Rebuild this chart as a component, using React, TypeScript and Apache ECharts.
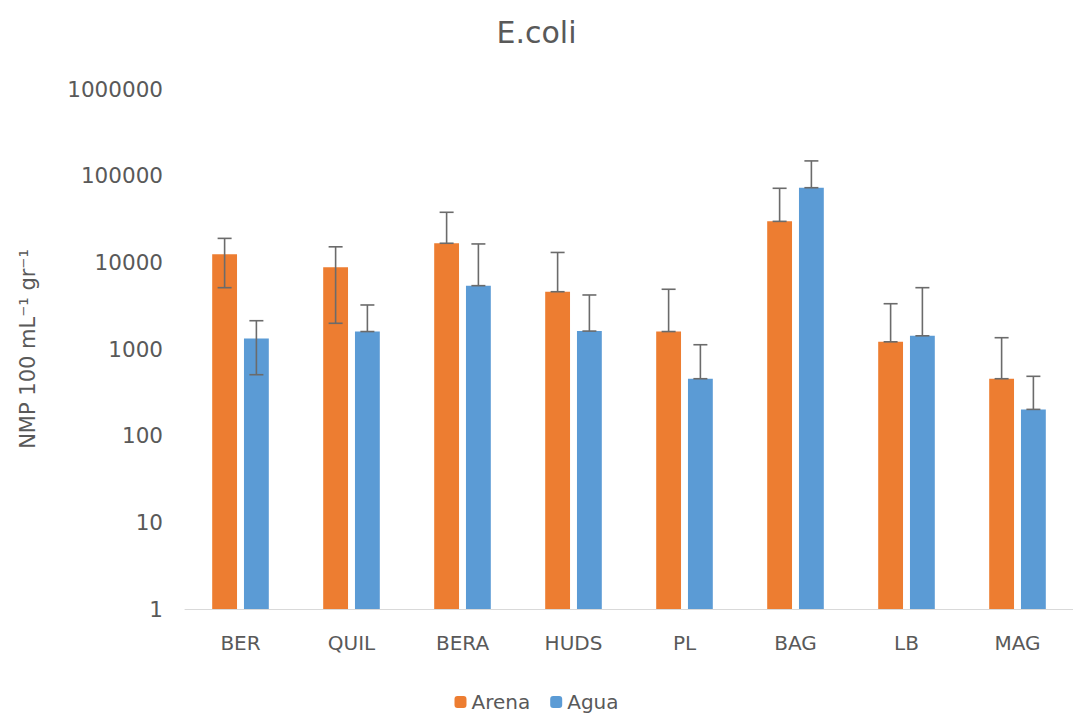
import React, { useEffect, useRef } from "react";
import * as echarts from "echarts";

const categories = ["BER", "QUIL", "BERA", "HUDS", "PL", "BAG", "LB", "MAG"];
const arenaValues = [12400, 8760, 16600, 4580, 1590, 29700, 1210, 454];
const aguaValues = [1320, 1590, 5380, 1610, 454, 72600, 1420, 201];
const arenaLow = [5100, 1980, 16600, 4580, 1590, 29700, 1210, 454];
const arenaHigh = [18900, 15100, 37800, 13000, 4890, 71500, 3330, 1350];
const aguaLow = [505, 1590, 5380, 1610, 454, 72600, 1420, 201];
const aguaHigh = [2120, 3220, 16300, 4200, 1120, 148000, 5100, 484];
const yTicks = [1, 10, 100, 1000, 10000, 100000, 1000000];

const FONT = "DejaVu Sans";
const TEXT = "#595959";
const CAT_GAP = 0.49;
const BAR_GAP = 0.28;

function makeErrorSeries(name: string, lows: number[], highs: number[], side: number) {
  return {
    type: "custom",
    name: name + " err",
    z: 10,
    silent: true,
    encode: { x: 0, y: [1, 2] },
    data: categories.map((_, i) => [i, lows[i], highs[i]]),
    renderItem: (params: any, api: any) => {
      const i = api.value(0);
      const lo = api.coord([i, api.value(1)]);
      const hi = api.coord([i, api.value(2)]);
      const band = api.size([1, 0])[0];
      const total = band * (1 - CAT_GAP);
      const bw = total / (2 + BAR_GAP);
      const off = side * (bw * (1 + BAR_GAP)) / 2;
      const x = lo[0] + off;
      const cap = 7;
      const style = { stroke: "#6b6b6b", lineWidth: 1.6 };
      return {
        type: "group",
        children: [
          { type: "line", shape: { x1: x, y1: lo[1], x2: x, y2: hi[1] }, style },
          { type: "line", shape: { x1: x - cap, y1: hi[1], x2: x + cap, y2: hi[1] }, style },
          { type: "line", shape: { x1: x - cap, y1: lo[1], x2: x + cap, y2: lo[1] }, style },
        ],
      };
    },
  };
}

export default function App() {
  const ref = useRef<HTMLDivElement>(null);
  useEffect(() => {
    if (!ref.current) return;
    const chart = echarts.init(ref.current, null, { renderer: "svg" });
    chart.setOption({
      animation: false,
      backgroundColor: "#ffffff",
      textStyle: { fontFamily: FONT },
      title: {
        text: "E.coli",
        left: "center",
        top: 12,
        textStyle: { fontFamily: FONT, fontSize: 30, fontWeight: "normal", color: TEXT },
      },
      legend: {
        top: 687,
        left: "center",
        itemWidth: 12,
        itemHeight: 12,
        itemGap: 20,
        data: ["Arena", "Agua"],
        textStyle: { fontFamily: FONT, fontSize: 20, color: TEXT },
      },
      grid: { left: 185, top: 89, width: 896, bottom: 106, containLabel: false },
      xAxis: {
        type: "category",
        data: categories,
        axisLine: { show: true, lineStyle: { color: "#d9d9d9", width: 1 } },
        axisTick: { show: false },
        axisLabel: { fontFamily: FONT, fontSize: 20, color: TEXT, margin: 24 },
      },
      yAxis: {
        type: "log",
        logBase: 10,
        min: yTicks[0],
        max: yTicks[yTicks.length - 1],
        name: "NMP 100 mL⁻¹ gr⁻¹",
        nameLocation: "middle",
        nameRotate: 90,
        nameGap: 147,
        nameTextStyle: { fontFamily: FONT, fontSize: 21, color: TEXT },
        axisLine: { show: false },
        axisTick: { show: false },
        splitLine: { show: false },
        axisLabel: {
          fontFamily: FONT,
          fontSize: 21.5,
          color: TEXT,
          margin: 22,
          formatter: (v: number) => String(Math.round(v)),
        },
      },
      series: [
        {
          type: "bar",
          name: "Arena",
          data: arenaValues,
          itemStyle: { color: "#ED7D31" },
          barGap: BAR_GAP * 100 + "%",
          barCategoryGap: CAT_GAP * 100 + "%",
        },
        {
          type: "bar",
          name: "Agua",
          data: aguaValues,
          itemStyle: { color: "#5B9BD5" },
          barGap: BAR_GAP * 100 + "%",
          barCategoryGap: CAT_GAP * 100 + "%",
        },
        makeErrorSeries("Arena", arenaLow, arenaHigh, -1),
        makeErrorSeries("Agua", aguaLow, aguaHigh, 1),
      ],
    });
    return () => chart.dispose();
  }, []);
  return (
    <div
      ref={ref}
      style={{ position: "fixed", left: 0, top: 0, width: 1073, height: 715, background: "#fff" }}
    />
  );
}
